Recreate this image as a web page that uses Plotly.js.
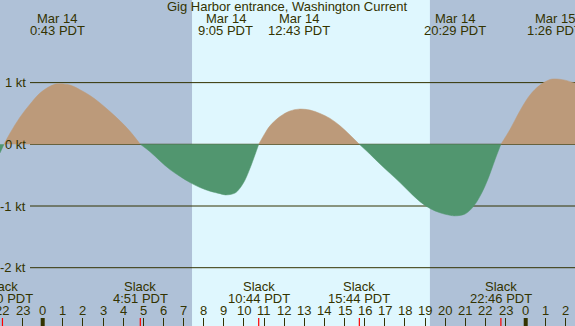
<!DOCTYPE html>
<html>
<head>
<meta charset="utf-8">
<script src="https://cdn.plot.ly/plotly-3.0.1.min.js"></script>
<style>
html,body{margin:0;padding:0;background:#afc1d7;overflow:hidden}
#chart{width:575px;height:326px}
</style>
</head>
<body>
<div id="chart"></div>
<script>
// Hours from Mar 14 00:00 PDT, current speed in knots (+ flood, - ebb)
const times  = [-2.122, -1.923, -1.625, -1.128, -0.631, -0.134, 0.363, 0.717, 1.357, 1.853, 2.35, 2.847, 3.344, 3.841, 4.338, 4.85,
                5.333, 5.83, 6.327, 6.824, 7.321, 7.818, 8.315, 8.812, 9.083, 9.555, 9.804, 10.052, 10.30, 10.549, 10.733,
                11.046, 11.294, 11.791, 12.288, 12.717, 13.282, 13.779, 14.276, 14.773, 15.27, 15.733,
                16.264, 16.761, 17.258, 17.754, 18.251, 18.748, 19.245, 19.742, 20.239, 20.483, 20.984, 21.396, 21.813, 22.141, 22.474, 22.767,
                23.219, 23.716, 24.213, 24.71, 25.207, 25.433, 25.953, 26.449];
const speeds = [-0.14, 0, 0.18, 0.44, 0.65, 0.83, 0.94, 0.98, 0.96, 0.885, 0.79, 0.67, 0.53, 0.38, 0.21, 0,
                -0.12, -0.27, -0.41, -0.52, -0.62, -0.70, -0.76, -0.80, -0.82, -0.79, -0.71, -0.58, -0.39, -0.17, 0,
                0.18, 0.30, 0.45, 0.54, 0.57, 0.555, 0.50, 0.42, 0.30, 0.15, 0,
                -0.16, -0.32, -0.47, -0.62, -0.78, -0.93, -1.04, -1.11, -1.15, -1.16, -1.13, -1.01, -0.79, -0.55, -0.25, 0,
                0.24, 0.545, 0.80, 0.96, 1.05, 1.06, 1.04, 0.99];

// Max current events (top labels)
const maxTimes  = [0.717, 9.083, 12.717, 20.483, 25.433];
const maxDates  = ['Mar 14', 'Mar 14', 'Mar 14', 'Mar 14', 'Mar 15'];
const maxLabels = ['0:43 PDT', '9:05 PDT', '12:43 PDT', '20:29 PDT', '1:26 PDT'];

// Slack events (bottom labels)
const slackTimes  = [-2.0, 4.85, 10.733, 15.733, 22.767];
const slackLabels = ['22:00 PDT', '4:51 PDT', '10:44 PDT', '15:44 PDT', '22:46 PDT'];

// Hour ticks
const hourVals   = [-2,-1,0,1,2,3,4,5,6,7,8,9,10,11,12,13,14,15,16,17,18,19,20,21,22,23,24,25,26];
const hourLabels = ['22','23','0','1','2','3','4','5','6','7','8','9','10','11','12','13','14','15','16','17','18','19','20','21','22','23','0','1','2'];
const midnights  = [0, 24];

// Daylight
const sunrise = 7.42, sunset = 19.24;

// Speed grid
const gridVals   = [1, 0, -1, -2];
const gridLabels = ['1 kt', '0 kt', '-1 kt', '-2 kt'];

const W = 575, H = 326;
const TXT = '#333300';
const FONT = 'Liberation Sans, Arial, sans-serif';
const px2py = p => 1 - p / H;

// Split into half-cycle segments at slack (zero) points
const traces = [];
let segX = [times[0]], segY = [speeds[0]];
function pushSeg() {
  if (segX.length < 2) return;
  const s = segY.reduce((a, b) => a + b, 0);
  const col = s >= 0 ? '#bc9a7a' : '#51966f';
  traces.push({
    x: segX, y: segY, type: 'scatter', mode: 'lines',
    line: {shape: 'spline', smoothing: 1, width: 0.5, color: col},
    fill: 'tozeroy', fillcolor: col, hoverinfo: 'skip', showlegend: false
  });
}
for (let i = 1; i < times.length; i++) {
  segX.push(times[i]); segY.push(speeds[i]);
  if (speeds[i] === 0 && i < times.length - 1) {
    pushSeg();
    segX = [times[i]]; segY = [speeds[i]];
  }
}
pushSeg();

const shapes = [];
shapes.push({type: 'rect', xref: 'x', yref: 'paper', x0: sunrise, x1: sunset, y0: 0, y1: 1,
             fillcolor: '#dff7fe', line: {width: 0}, layer: 'below'});
gridVals.forEach(v => shapes.push({type: 'line', xref: 'paper', yref: 'y', x0: 30 / W, x1: 1, y0: v, y1: v,
             line: {color: TXT, width: 1}, layer: 'below'}));
slackTimes.forEach(t => shapes.push({type: 'line', xref: 'x', yref: 'paper', x0: t, x1: t,
             y0: 0, y1: 8 / H, line: {color: '#ff0000', width: 1.2}, layer: 'above'}));
midnights.forEach(t => shapes.push({type: 'line', xref: 'x', yref: 'paper', x0: t, x1: t,
             y0: 0, y1: 8 / H, line: {color: TXT, width: 4}, layer: 'above'}));

const ann = [];
const mk = (x, xref, ypx, text, extra) => Object.assign({
  x: x, xref: xref, y: px2py(ypx), yref: 'paper', text: text, showarrow: false,
  xanchor: 'center', yanchor: 'middle', font: {family: FONT, size: 13, color: TXT}
}, extra || {});
ann.push(mk(0.5, 'paper', 6.5, 'Gig Harbor entrance, Washington Current'));
maxTimes.forEach((t, i) => {
  ann.push(mk(t, 'x', 18.8, maxDates[i]));
  ann.push(mk(t, 'x', 30.8, maxLabels[i]));
});
slackTimes.forEach((t, i) => {
  ann.push(mk(t, 'x', 286.2, 'Slack'));
  ann.push(mk(t, 'x', 298.8, slackLabels[i]));
});
hourVals.forEach((t, i) => ann.push(mk(t, 'x', 310.5, hourLabels[i])));
gridVals.forEach((v, i) => ann.push(mk(28 / W, 'paper', 0, gridLabels[i],
  {y: v, yref: 'y', xanchor: 'right'})));

const layout = {
  width: W, height: H,
  margin: {l: 0, r: 0, t: 0, b: 0, pad: 0},
  paper_bgcolor: '#afc1d7', plot_bgcolor: 'rgba(0,0,0,0)',
  showlegend: false,
  xaxis: {range: [-2.1217, 26.449], showgrid: false, zeroline: false, showline: false,
          tickmode: 'array', tickvals: hourVals, ticks: 'inside', ticklen: 8,
          tickcolor: TXT, tickwidth: 1, showticklabels: false, fixedrange: true},
  yaxis: {range: [-2.945, 2.339], showgrid: false, zeroline: false, showline: false,
          showticklabels: false, ticks: '', fixedrange: true},
  shapes: shapes, annotations: ann
};

Plotly.newPlot('chart', traces, layout, {staticPlot: true, displayModeBar: false});
</script>
</body>
</html>
